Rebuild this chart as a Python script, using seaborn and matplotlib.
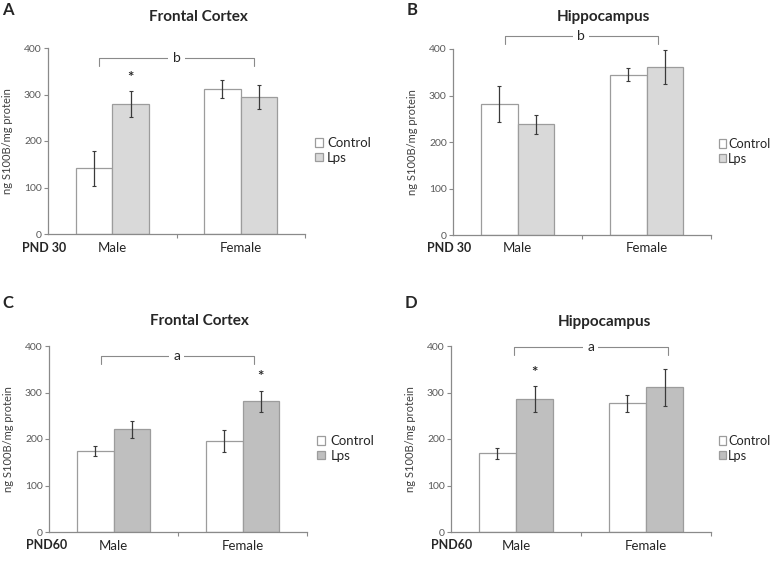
import numpy as np
import pandas as pd
import matplotlib
matplotlib.use("Agg")
import matplotlib.pyplot as plt
import seaborn as sns

sns.set_theme(style="white")
plt.rcParams['font.family'] = ['Lato', 'DejaVu Sans']

# Dados (ng S100B/mg protein)
sexos = ['Male', 'Female']
grupos = ['Control', 'Lps']

# A - Frontal Cortex, PND 30
fc30_control = [141, 312]
fc30_control_err = [37, 19]
fc30_lps = [279, 295]
fc30_lps_err = [28, 26]

# B - Hippocampus, PND 30
hc30_control = [281, 345]
hc30_control_err = [39, 14]
hc30_lps = [238, 361]
hc30_lps_err = [20, 37]

# C - Frontal Cortex, PND60
fc60_control = [175, 195]
fc60_control_err = [11, 24]
fc60_lps = [221, 281]
fc60_lps_err = [18, 23]

# D - Hippocampus, PND60
hc60_control = [169, 277]
hc60_control_err = [11, 18]
hc60_lps = [286, 311]
hc60_lps_err = [28, 39]

W, H = 773, 568
fig = plt.figure(figsize=(W / 100, H / 100), dpi=100)

def px_axes(left, top, right, bottom):
    return fig.add_axes([left / W, 1 - bottom / H, (right - left) / W, (bottom - top) / H])

paineis = [
    dict(letra='A', titulo='Frontal Cortex', pnd='PND 30', box=(48, 48, 305, 234),
         ctrl=fc30_control, ctrl_err=fc30_control_err, lps=fc30_lps, lps_err=fc30_lps_err,
         cor_lps='#d9d9d9', colchete=(-0.1, 1.1, 379, 361, 'b', 0.5), asterisco=[(0, 'Lps', 335)],
         pos_letra=(8, 10), pos_titulo=(198, 17), pos_pnd=(22, 248), xlabel_y=248,
         leg=dict(x=1.04, pad=0.3, fs=9.5)),
    dict(letra='B', titulo='Hippocampus', pnd='PND 30', box=(453, 49, 711, 235),
         ctrl=hc30_control, ctrl_err=hc30_control_err, lps=hc30_lps, lps_err=hc30_lps_err,
         cor_lps='#d9d9d9', colchete=(-0.097, 1.09, 429, 411, 'b', 0.49), asterisco=[],
         pos_letra=(412, 10), pos_titulo=(603, 17), pos_pnd=(427, 248), xlabel_y=248,
         leg=dict(x=1.03, pad=0.12, fs=9.2)),
    dict(letra='C', titulo='Frontal Cortex', pnd='PND60', box=(49, 346, 307, 532),
         ctrl=fc60_control, ctrl_err=fc60_control_err, lps=fc60_lps, lps_err=fc60_lps_err,
         cor_lps='#bfbfbf', colchete=(-0.1, 1.09, 379, 361, 'a', 0.49), asterisco=[(1, 'Lps', 334)],
         pos_letra=(8, 303), pos_titulo=(199, 321), pos_pnd=(26, 545), xlabel_y=546,
         leg=dict(x=1.04, pad=0.4, fs=9.5)),
    dict(letra='D', titulo='Hippocampus', pnd='PND60', box=(451, 346, 711, 532),
         ctrl=hc60_control, ctrl_err=hc60_control_err, lps=hc60_lps, lps_err=hc60_lps_err,
         cor_lps='#bfbfbf', colchete=(-0.015, 1.17, 397, 380, 'a', 0.575), asterisco=[(0, 'Lps', 343)],
         pos_letra=(411, 303), pos_titulo=(604, 322), pos_pnd=(431, 545), xlabel_y=546,
         leg=dict(x=1.03, pad=0.12, fs=9.2)),
]

cinza_eixo = '#8a8a8a'

for p in paineis:
    ax = px_axes(*p['box'])

    df = pd.DataFrame({
        'sexo': sexos * 2,
        'grupo': ['Control'] * 2 + ['Lps'] * 2,
        'valor': p['ctrl'] + p['lps'],
    })
    sns.barplot(data=df, x='sexo', y='valor', hue='grupo', order=sexos, hue_order=grupos,
                palette={'Control': 'white', 'Lps': p['cor_lps']}, saturation=1,
                width=0.57, edgecolor='#9c9c9c', linewidth=0.9, errorbar=None, ax=ax)

    # barras de erro
    centros = {}
    for grupo, cont, errs in zip(grupos, ax.containers, [p['ctrl_err'], p['lps_err']]):
        xs = [b.get_x() + b.get_width() / 2 for b in cont]
        ys = [b.get_height() for b in cont]
        centros[grupo] = xs
        ax.errorbar(xs, ys, yerr=errs, fmt='none', ecolor='#3a3a3a',
                    elinewidth=0.9, capsize=1.5, capthick=0.8, zorder=5)

    ax.set_xlim(-0.5, 1.5)
    ax.set_ylim(0, 400)
    ax.set_yticks([0, 100, 200, 300, 400])
    ax.set_xlabel('')
    ax.set_ylabel('ng S100B/mg protein', fontsize=8, color='#404040')
    ax.yaxis.set_label_coords(-0.135, 0.5)
    sns.despine(ax=ax)
    for s in ['left', 'bottom']:
        ax.spines[s].set_color(cinza_eixo)
        ax.spines[s].set_linewidth(0.9)

    ax.tick_params(axis='y', length=3, width=0.8, color=cinza_eixo, labelsize=7.5,
                   labelcolor='#595959', pad=1.5, left=True)
    ax.tick_params(axis='x', which='major', length=0)
    ax.set_xticks([0.5, 1.5], minor=True)
    ax.tick_params(axis='x', which='minor', length=3, width=0.8, color=cinza_eixo, bottom=True)
    ax.set_xticklabels([])
    for i, s in enumerate(sexos):
        fig.text((p['box'][0] + (p['box'][2] - p['box'][0]) * (i + 0.5) / 2) / W,
                 1 - p['xlabel_y'] / H, s, ha='center', va='center', fontsize=9.5, color='#262626')

    # colchete de significancia
    x0, x1, yc, yb, letra, xl = p['colchete']
    ax.plot([x0, x0, x1, x1], [yb, yc, yc, yb], color=cinza_eixo, lw=0.8, clip_on=False)
    ax.text(xl, yc, letra, ha='center', va='center', fontsize=10, color='#262626',
            bbox=dict(facecolor='white', edgecolor='none', pad=3), clip_on=False)

    for idx, grupo, ya in p['asterisco']:
        ax.text(centros[grupo][idx], ya, '*', ha='center', va='center', fontsize=11,
                fontweight='bold', color='#262626')

    ax.legend(loc='center left', bbox_to_anchor=(p['leg']['x'], 0.45), frameon=False,
              handlelength=0.6, handleheight=0.6, handletextpad=p['leg']['pad'], labelspacing=0.2,
              fontsize=p['leg']['fs'], borderaxespad=0, borderpad=0, labelcolor='#262626')

    fig.text(p['pos_letra'][0] / W, 1 - p['pos_letra'][1] / H, p['letra'],
             ha='center', va='center', fontsize=12, fontweight='bold')
    fig.text(p['pos_titulo'][0] / W, 1 - p['pos_titulo'][1] / H, p['titulo'],
             ha='center', va='center', fontsize=11, fontweight='bold')
    fig.text(p['pos_pnd'][0] / W, 1 - p['pos_pnd'][1] / H, p['pnd'],
             ha='left', va='center', fontsize=9, fontweight='bold')

fig.savefig('out.png', dpi=100)
